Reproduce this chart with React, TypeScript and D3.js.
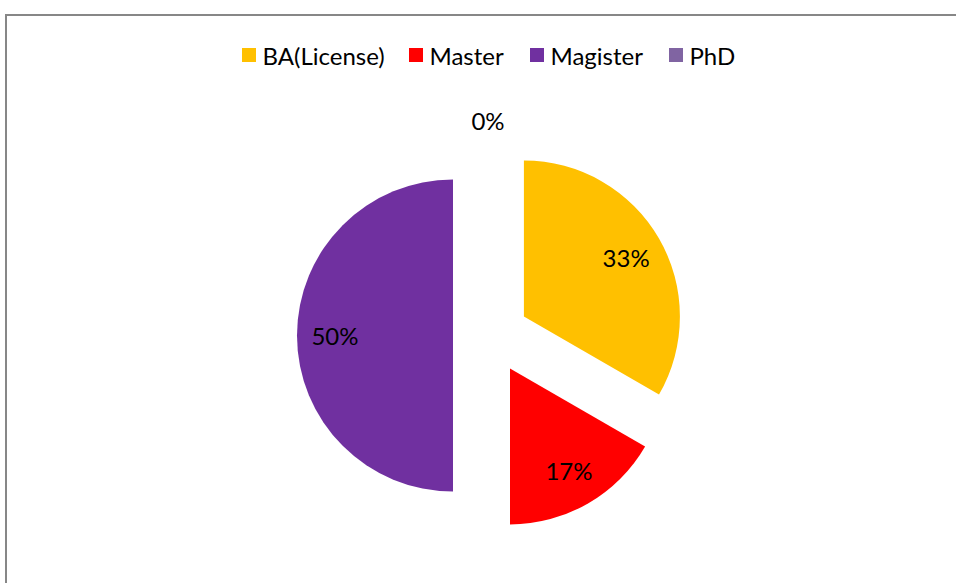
import React from "react";
import * as d3 from "d3";

const categories = ["BA(License)", "Master", "Magister", "PhD"];
const values = [2, 1, 3, 0];
const colors = ["#FFC000", "#FF0000", "#7030A0", "#8064A2"];

const W = 956;
const H = 583;
const FONT = "Lato, 'Open Sans', sans-serif";

export default function App() {
  const cx = 491;
  const cy = 335.5;
  const r = 156;
  const explode = 38;
  const labelR = 118;
  const outsideR = 215;

  const total = d3.sum(values);
  const pie = d3
    .pie<number>()
    .sort(null)
    .value((d) => d)
    .startAngle(0)
    .endAngle(2 * Math.PI);
  const arcs = pie(values);
  const arcGen = d3.arc<d3.PieArcDatum<number>>().innerRadius(0).outerRadius(r);

  // legend layout
  const legendX = [242, 409, 530, 669];
  const legendY = 48;

  return (
    <svg
      width={W}
      height={H}
      style={{ position: "absolute", left: 0, top: 0, background: "#fff" }}
    >
      <rect x={6} y={15} width={W + 20} height={H + 20} fill="#fff" stroke="#878787" strokeWidth={2} />
      {categories.map((c, i) => (
        <g key={c}>
          <rect x={legendX[i]} y={legendY} width={14} height={14} fill={colors[i]} />
          <text
            x={legendX[i] + 20.5}
            y={legendY + 7}
            dominantBaseline="central"
            fontFamily={FONT}
            fontSize={24}
            fill="#000"
          >
            {c}
          </text>
        </g>
      ))}
      {arcs.map((a, i) => {
        const mid = (a.startAngle + a.endAngle) / 2;
        const dx = Math.sin(mid) * explode;
        const dy = -Math.cos(mid) * explode;
        const pct = total ? Math.round((a.data / total) * 100) : 0;
        const lr = a.data === 0 ? outsideR : labelR;
        const lx = a.data === 0 ? Math.sin(mid) * lr - 3 : dx + Math.sin(mid) * lr;
        const ly = a.data === 0 ? -Math.cos(mid) * lr : dy - Math.cos(mid) * lr;
        return (
          <g key={i} transform={`translate(${cx},${cy})`}>
            {a.data > 0 && (
              <path d={arcGen(a) || ""} transform={`translate(${dx},${dy})`} fill={colors[i]} />
            )}
            <text
              x={lx}
              y={ly}
              textAnchor="middle"
              dominantBaseline="central"
              fontFamily={FONT}
              fontSize={24}
              fill="#000"
            >
              {pct}%
            </text>
          </g>
        );
      })}
    </svg>
  );
}
